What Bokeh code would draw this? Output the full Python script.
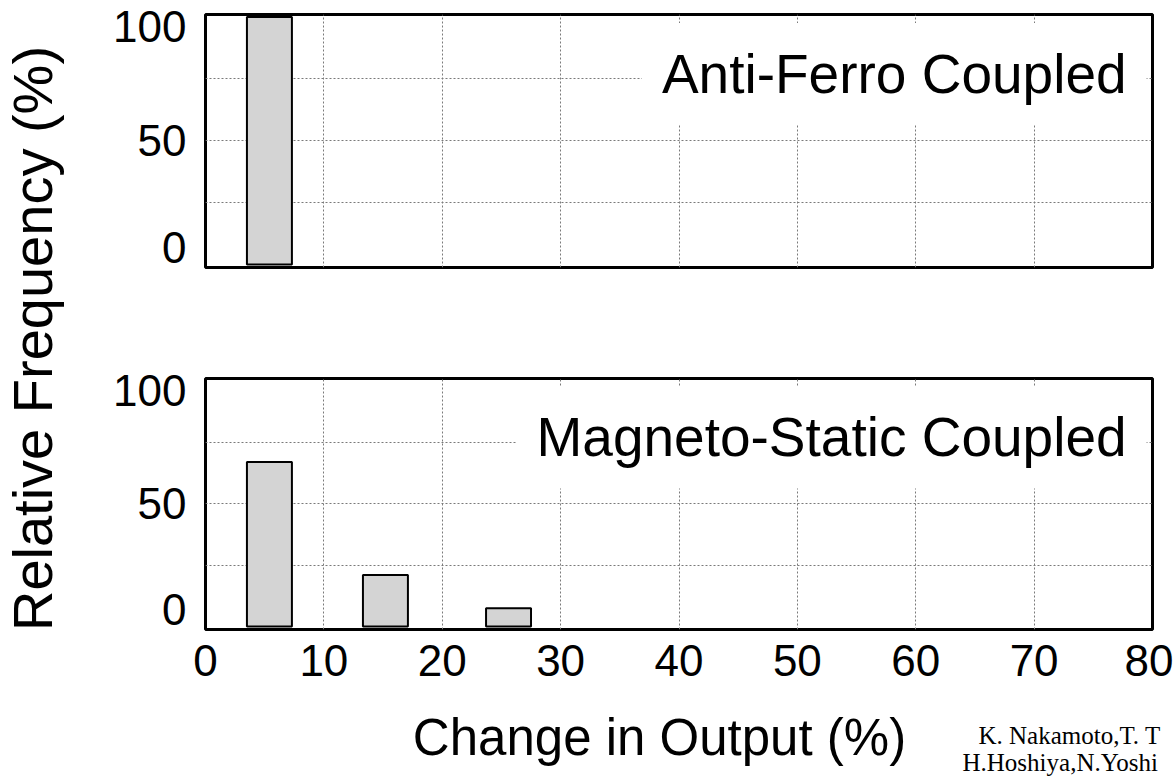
import math
from bokeh.plotting import figure
from bokeh.layouts import row, column
from bokeh.models import Range1d, FixedTicker, Label, ColumnDataSource
from bokeh.embed import file_html
from bokeh.resources import INLINE

# ---------------- data ----------------
af_bin_centers = [5.4]              # Anti-Ferro Coupled
af_frequency = [100]
ms_bin_centers = [5.4, 15.2, 25.6]  # Magneto-Static Coupled
ms_frequency = [67, 21, 7.5]
bar_width = 3.8

x_ticks = [0, 10, 20, 30, 40, 50, 60, 70, 80]
y_tick_labels = ["0", "50", "100"]
panel_titles = ["Anti-Ferro Coupled", "Magneto-Static Coupled"]
x_label = "Change in Output (%)"
y_label = "Relative Frequency (%)"
citation_lines = ["K. Nakamoto,T. T", "H.Hoshiya,N.Yoshi"]

SANS = "Liberation Sans"
SERIF = "Liberation Serif"

# y-axis label positions (labels sit slightly inside the panel ends, as in the reference)
y_label_pos = [7, 50, 96]

LEFT_W = 70
MAIN_W = 1173 - LEFT_W


def make_panel(centers, freqs, title, height, mb_top, mb_bottom, show_x):
    p = figure(width=MAIN_W, height=height, x_range=Range1d(0, 80), y_range=Range1d(-1.2, 101),
               toolbar_location=None, output_backend="svg",
               min_border_left=205 - LEFT_W, min_border_right=21,
               min_border_top=mb_top, min_border_bottom=mb_bottom)
    p.background_fill_color = "white"
    p.border_fill_color = "white"
    p.outline_line_color = "black"
    p.outline_line_width = 3

    # grid
    p.xgrid.ticker = FixedTicker(ticks=x_ticks[1:-1])
    p.ygrid.ticker = FixedTicker(ticks=[25, 50, 75])
    for g in (p.xgrid, p.ygrid):
        g.grid_line_color = "#7a7a7a"
        g.grid_line_dash = "2 2"
        g.grid_line_width = 1

    # axes
    p.yaxis.ticker = FixedTicker(ticks=y_label_pos)
    p.yaxis.major_label_overrides = {k: v for k, v in zip(y_label_pos, y_tick_labels)}
    p.xaxis.ticker = FixedTicker(ticks=x_ticks)
    for ax in (p.xaxis, p.yaxis):
        ax.axis_line_color = None
        ax.major_tick_line_color = None
        ax.minor_tick_line_color = None
        ax.major_label_text_font = SANS
        ax.major_label_text_font_size = "44px"
        ax.major_label_text_color = "black"
    p.yaxis.major_label_standoff = 13
    p.xaxis.major_label_standoff = 9
    p.xaxis.visible = show_x

    src = ColumnDataSource(dict(x=centers, top=freqs))
    p.vbar(x="x", top="top", bottom=0, width=bar_width, source=src,
           fill_color="#d4d4d4", line_color="black", line_width=2)

    p.add_layout(Label(x=79.5, y=77, text=title, text_align="right", text_baseline="middle",
                       text_font=SANS, text_font_size="55px", text_color="black",
                       background_fill_color="white", padding=20))
    return p


top = make_panel(af_bin_centers, af_frequency, panel_titles[0], 320, 14, 53, False)
bottom = make_panel(ms_bin_centers, ms_frequency, panel_titles[1], 367, 58, 58, True)


def blank_fig(width, height):
    f = figure(width=width, height=height, toolbar_location=None, output_backend="svg",
               x_range=Range1d(0, 1), y_range=Range1d(0, 1), min_border=0)
    f.axis.visible = False
    f.grid.visible = False
    f.outline_line_color = None
    f.background_fill_color = "white"
    f.border_fill_color = "white"
    return f


STRIP_H = 777 - 320 - 367  # 90

# x-axis title strip and citation strip (below the lower panel)
XL_W = 940 - LEFT_W
xl_fig = blank_fig(XL_W, STRIP_H)
xl_fig.add_layout(Label(x=659 - LEFT_W, y=40, x_units="screen", y_units="screen", text=x_label,
                        text_align="center", text_baseline="middle",
                        text_font=SANS, text_font_size="51px", text_color="black"))

cit_fig = blank_fig(MAIN_W - XL_W, STRIP_H)
cit_fig.add_layout(Label(x=38, y=777 - 735, x_units="screen", y_units="screen", text=citation_lines[0],
                         text_align="left", text_baseline="middle",
                         text_font=SERIF, text_font_size="25px", text_color="black"))
cit_fig.add_layout(Label(x=22, y=777 - 762, x_units="screen", y_units="screen", text=citation_lines[1],
                         text_align="left", text_baseline="middle",
                         text_font=SERIF, text_font_size="25px", text_color="black"))

# y-axis title strip on the left
left = blank_fig(LEFT_W, 777)
left.add_layout(Label(x=32, y=777 - 338, x_units="screen", y_units="screen", text=y_label,
                      angle=math.pi / 2, text_align="center", text_baseline="middle",
                      text_font=SANS, text_font_size="56px", text_color="black"))

layout = row(left, column(top, bottom, row(xl_fig, cit_fig)))

open("out.html", "w").write(file_html(layout, INLINE))
